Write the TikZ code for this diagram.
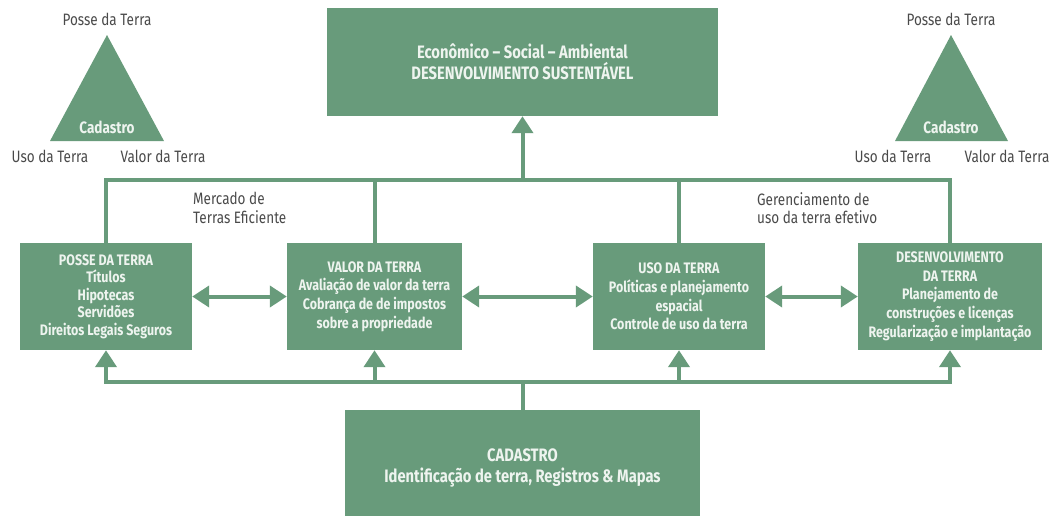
\documentclass[tikz,border=0pt]{standalone}
\usepackage{fontspec}
\setmainfont{Fira Sans}[FakeStretch=0.82]
\usetikzlibrary{arrows.meta}
\definecolor{gr}{HTML}{689B7B}
\definecolor{boxtext}{HTML}{EEF4EF}
\definecolor{lbl}{HTML}{4A4A4A}
\tikzset{
  box/.style={fill=gr, draw=none, text=boxtext, align=center, inner sep=0pt,
    font=\bfseries\fontsize{15.2}{18.8}\selectfont},
  bigbox/.style={box, font=\bfseries\fontsize{18}{21.5}\selectfont},
  conn/.style={draw=gr, line width=4pt},
  arr/.style={conn, -{Triangle[width=21pt,length=17pt]}},
  dbl/.style={conn, {Triangle[width=21pt,length=17pt]}-{Triangle[width=21pt,length=17pt]}},
  lbl/.style={text=lbl, font=\fontsize{16.5}{18.5}\selectfont, inner sep=0pt},
  tri/.style={fill=gr},
  trilbl/.style={text=boxtext, font=\bfseries\fontsize{16.5}{18}\selectfont, inner sep=0pt}
}
\begin{document}
\begin{tikzpicture}[x=1pt,y=-1pt]
\useasboundingbox (0,0) rectangle (1058,515);
% boxes
\node[bigbox, minimum width=391pt, minimum height=108pt] (top) at (522.5,62) {Econômico – Social – Ambiental\\DESENVOLVIMENTO SUSTENTÁVEL};
\node[box, font=\bfseries\fontsize{15.2}{17.6}\selectfont, minimum width=172pt, minimum height=107pt] (b1) at (106,296.5) {POSSE DA TERRA\\Títulos\\Hipotecas\\Servidões\\Direitos Legais Seguros};
\node[box, minimum width=175pt, minimum height=107pt] (b2) at (374.5,296.5) {VALOR DA TERRA\\Avaliação de valor da terra\\Cobrança de de impostos\\sobre a propriedade};
\node[box, minimum width=172pt, minimum height=107pt] (b3) at (679,296.5) {USO DA TERRA\\Políticas e planejamento\\espacial\\Controle de uso da terra};
\node[box, minimum width=184pt, minimum height=107pt] (b4) at (950,296.5) {DESENVOLVIMENTO\\DA TERRA\\Planejamento de\\construções e licenças\\Regularização e implantação};
\node[bigbox, minimum width=355pt, minimum height=116pt] (bot) at (522.5,468) {CADASTRO\\Identificação de terra, Registros \& Mapas};
% buses
\coordinate (busT) at (522.5,180);
\coordinate (busB) at (522.5,382);
\draw[conn] (b1.north) |- (busT) -| (b4.north);
\draw[conn] (b2.north) -- (b2.north |- busT);
\draw[conn] (b3.north) -- (b3.north |- busT);
\draw[arr] (busT) -- (top.south);
\draw[conn] (bot.north) -- (busB);
\draw[arr] (busB) -| (b1.south);
\draw[arr] (busB) -| (b4.south);
\draw[arr] (b2.south |- busB) -- (b2.south);
\draw[arr] (b3.south |- busB) -- (b3.south);
% double arrows
\draw[dbl] (b1.east) -- (b2.west);
\draw[dbl] (b2.east) -- (b3.west);
\draw[dbl] (b3.east) -- (b4.west);
% labels on bus
\node[lbl, anchor=north west, align=left] (merc) at (193,192) {Mercado de\\Terras Eficiente};
\node[lbl, anchor=north west, align=left] (ger) at (757,192) {Gerenciamento de\\uso da terra efetivo};
% left triangle
\coordinate (ltA) at (107,35);
\coordinate (ltL) at (50,141);
\coordinate (ltR) at (164,141);
\fill[tri] (ltA) -- (ltR) -- (ltL) -- cycle;
\node[trilbl] (ltc) at (107,127) {Cadastro};
\node[lbl] (ltp) at (107,19) {Posse da Terra};
\node[lbl] (ltu) at (50,156) {Uso da Terra};
\node[lbl] (ltv) at (163,156) {Valor da Terra};
% right triangle
\coordinate (rtA) at (951,35);
\coordinate (rtL) at (895,141);
\coordinate (rtR) at (1008,141);
\fill[tri] (rtA) -- (rtR) -- (rtL) -- cycle;
\node[trilbl] (rtc) at (951,127) {Cadastro};
\node[lbl] (rtp) at (951,19) {Posse da Terra};
\node[lbl] (rtu) at (893,156) {Uso da Terra};
\node[lbl] (rtv) at (1007,156) {Valor da Terra};
\end{tikzpicture}
\end{document}
